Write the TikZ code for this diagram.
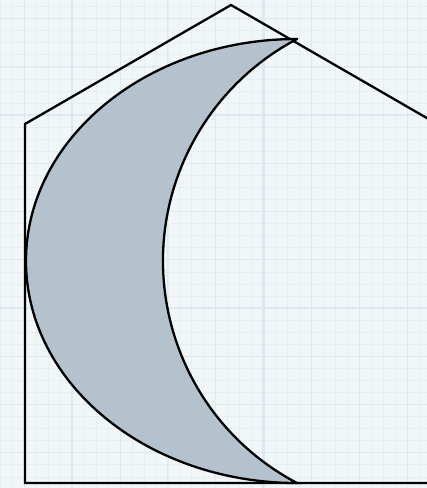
\documentclass[tikz,border=0pt]{standalone}
\begin{document}
\begin{tikzpicture}[x=1pt,y=-1pt,
  outline/.style={draw=black,line width=2.3pt,line join=miter},
  minorgrid/.style={draw=gridminor,line width=0.5pt},
  midgrid/.style={draw=gridmid,line width=0.8pt},
  majorgrid/.style={draw=gridmajor,line width=2.2pt}]
\definecolor{paper}{HTML}{F1F6F9}
\definecolor{gridminor}{HTML}{E8EFF3}
\definecolor{gridmid}{HTML}{E1E9EE}
\definecolor{gridmajor}{HTML}{DDE9F1}
\definecolor{moonfill}{HTML}{B4C2CD}
\path[use as bounding box] (0,0) rectangle (427,488);
\begin{scope}
\clip (0,0) rectangle (427,488);
\fill[paper] (0,0) rectangle (427,488);
% minor grid
\foreach \i in {-16,...,40} {
  \draw[minorgrid] (72+\i*11.97,0) -- (72+\i*11.97,488);
  \draw[minorgrid] (0,115+\i*12.06) -- (427,115+\i*12.06);
}
\foreach \i in {-4,...,10} {
  \draw[midgrid] (72+\i*47.9,0) -- (72+\i*47.9,488);
  \draw[midgrid] (0,115+\i*48.25) -- (427,115+\i*48.25);
}
\foreach \i in {-1,0,1,2} {
  \draw[majorgrid] (72+\i*191.5,0) -- (72+\i*191.5,488);
  \draw[majorgrid] (0,115+\i*193) -- (427,115+\i*193);
}
% house outline
\draw[outline] (440,483) -- (25,483) -- (25,124) -- (231,5) -- (445,128.5);
% crescent
\draw[outline,fill=moonfill]
  (297,39) arc[start angle=270,end angle=90,x radius=271,y radius=222]
  arc[start angle=117.77,end angle=242.23,radius=250.9] -- cycle;
\end{scope}
\end{tikzpicture}
\end{document}
